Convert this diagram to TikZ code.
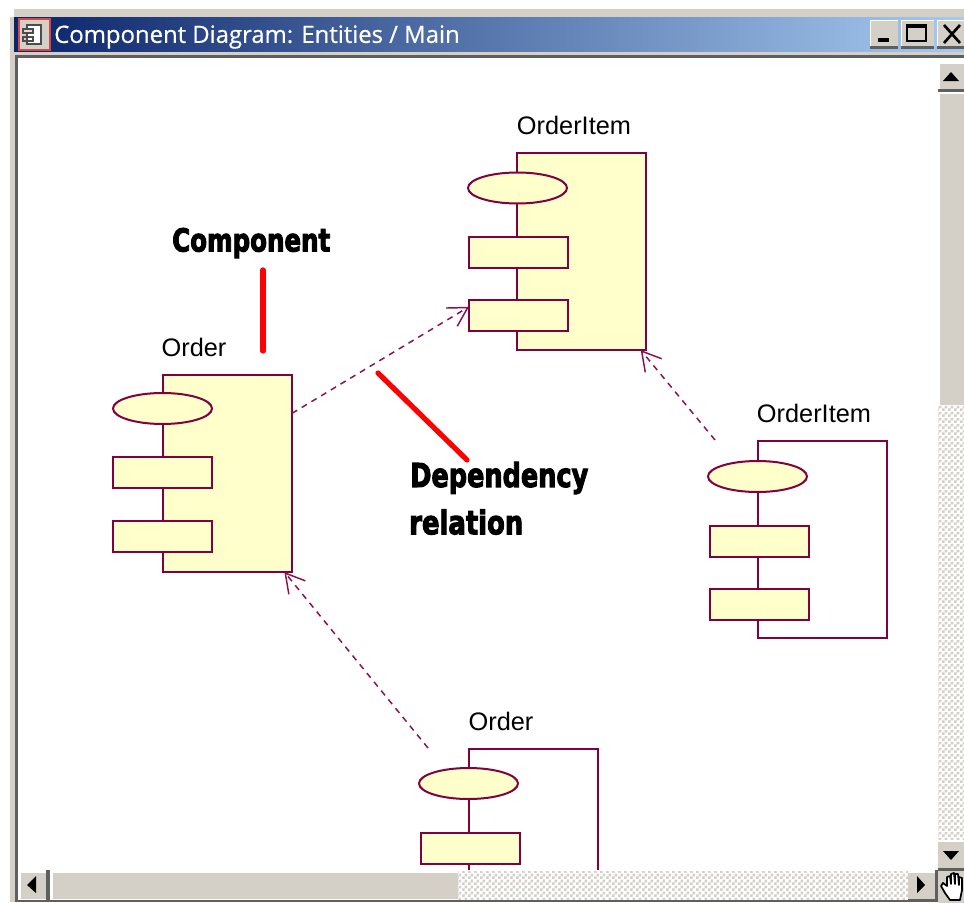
\documentclass[tikz,border=0pt]{standalone}
\usepackage{fontspec}
\usepackage{graphicx}
\setmainfont{Liberation Sans}
\newfontfamily\titlefont[FakeBold=0.6]{Open Sans}
\newfontfamily\notefont[FakeBold=3.5]{DejaVu Sans Bold}
\usetikzlibrary{arrows.meta,shapes.geometric,patterns}
\pgfdeclarepatternformonly{wincheck}{\pgfqpoint{0pt}{0pt}}{\pgfqpoint{4.5pt}{4.5pt}}{\pgfqpoint{4.5pt}{4.5pt}}{%
  \pgfpathrectangle{\pgfqpoint{0pt}{0pt}}{\pgfqpoint{2.25pt}{2.25pt}}%
  \pgfpathrectangle{\pgfqpoint{2.25pt}{2.25pt}}{\pgfqpoint{2.25pt}{2.25pt}}%
  \pgfusepath{fill}}
\definecolor{umlline}{HTML}{800040}
\definecolor{umlfill}{HTML}{FFFFCC}
\definecolor{chrome}{HTML}{D4D0C8}
\definecolor{chromedark}{HTML}{5F5F5F}
\definecolor{titledark}{HTML}{0A246A}
\definecolor{titlelight}{HTML}{A6CAF0}
\definecolor{depline}{HTML}{8A1050}
\tikzset{
  box/.style 2 args={rectangle,inner sep=0pt,outer sep=0pt,minimum width=#1*0.75pt,minimum height=#2*0.75pt},
  compbody/.style={box={129}{197},draw=umlline,line width=1.5pt,fill=umlfill},
  compghost/.style={box={129}{197},draw=umlline,line width=1.5pt,fill=white},
  compellipse/.style={ellipse,inner sep=0pt,outer sep=0pt,minimum width=74.25pt,minimum height=23.25pt,draw=umlline,line width=1.5pt,fill=umlfill},
  comprect/.style={box={99}{31},draw=umlline,line width=1.5pt,fill=umlfill},
  complabel/.style={font=\fontsize{19}{21}\selectfont,text=black,inner sep=0pt},
  dep/.style={draw=depline,line width=1.1pt,dash pattern=on 4.5pt off 4pt,-{Straight Barb[length=14pt,width=16pt,line width=1.1pt]}},
  pointer/.style={draw=red,line width=3.9pt,line cap=round},
  note/.style={font=\fontsize{17.5}{20}\notefont,text=black,inner sep=0pt,anchor=west},
  glyph/.style={fill=black,draw=none},
  checker/.style={pattern=wincheck,pattern color=chrome}
}
\begin{document}
\begin{tikzpicture}[x=0.75pt,y=-0.75pt]
\useasboundingbox (0,0) rectangle (964,903);
\fill[white] (0,0) rectangle (964,903);
% window frame
\fill[chrome] (14,9) rectangle (964,17);
\fill[chrome] (10,17) rectangle (16,902);
\fill[chromedark] (15,56) rectangle (18,902);
\shade[left color=titledark,right color=titlelight] (14,17) rectangle (964,52);
\fill[chrome] (14,52) rectangle (964,55);
\fill[chromedark] (15,55) rectangle (964,58);
% title icon
\draw[draw={rgb,255:red,215;green,70;blue,70},fill=chrome,line width=1.2pt] (19,19) rectangle (50,50);
\draw[black!70,fill=white,line width=1pt] (27,25) rectangle (41,44);
\fill[chrome!70] (22,29) rectangle (33,33);
\draw[black!70,line width=0.8pt] (23,29) rectangle (33,33);
\draw[black!70,line width=0.8pt] (23,37) rectangle (33,41);
\node[font=\fontsize{17.9}{20}\titlefont,text=white,anchor=west,inner sep=0pt] (title) at (54,37) {Component Diagram: Entities / Main};
% window buttons
\foreach \a/\b in {870/898,901/934,937/964}{
  \fill[white] (\a,20) rectangle (\b,48);
  \fill[chrome] (\a+1,21) rectangle (\b,46);
  \fill[chromedark] (\a,46) rectangle (\b,49);
}
\fill[black] (878,38) rectangle (889,42);
\draw[black,line width=1.5pt] (907,25) rectangle (926,41);
\draw[black,line width=1.5pt] (907,26.5) -- (926,26.5);
\draw[black,line width=2pt] (944,25) -- (960,43) (960,25) -- (944,43);
% diagram
\begin{scope}
\clip (18,58) rectangle (938,870);
\node[compbody] (bodyA) at (581.5,251.5) {};
\node[compellipse] (ellA) at (517.5,188) {};
\node[comprect] (rectA1) at (518.5,252.5) {};
\node[comprect] (rectA2) at (518.5,315.5) {};
\node[complabel] (labA) at (574,125) {OrderItem};

\node[compbody] (bodyB) at (227.5,473.5) {};
\node[compellipse] (ellB) at (162.5,408.5) {};
\node[comprect] (rectB1) at (162.5,472.5) {};
\node[comprect] (rectB2) at (162.5,536.5) {};
\node[complabel] (labB) at (194,347) {Order};

\node[compghost] (bodyC) at (822,539.5) {};
\node[compellipse] (ellC) at (757.5,476.5) {};
\node[comprect] (rectC1) at (759,541) {};
\node[comprect] (rectC2) at (759,604) {};
\node[complabel] (labC) at (814,413) {OrderItem};

\node[compghost] (bodyD) at (533.5,847.5) {};
\node[compellipse] (ellD) at (468.5,783.5) {};
\node[comprect] (rectD1) at (470.5,848) {};
\node[complabel] (labD) at (501,721) {Order};

\coordinate (startC) at (715,440);
\coordinate (startD) at (428,748);
\draw[dep] (bodyB.43) -- (rectA2.170);
\draw[dep] (startC) -- (bodyA.-59.3);
\draw[dep] (startD) -- (bodyB.-60.2);
\end{scope}
% annotations
\node[note] (noteA) at (172,243) {\resizebox*{118.5pt}{22.5pt}{Component}};
\node[note] (noteB) at (410,478) {\resizebox*{133.5pt}{24pt}{Dependency}};
\node[note] (noteC) at (409,522) {\resizebox*{85.5pt}{19pt}{relation}};
\coordinate (ptrA) at (263,270);
\coordinate (ptrAe) at (263,351);
\coordinate (ptrB) at (378,373);
\coordinate (ptrBe) at (467,460);
\draw[pointer] (ptrA) -- (ptrAe);
\draw[pointer] (ptrB) -- (ptrBe);
% vertical scrollbar
\fill[white] (938,58) rectangle (964,840);
\fill[checker] (938,405) rectangle (964,840);
\fill[chrome] (940,62) rectangle (964,89);
\fill[white] (940,62) rectangle (964,64);
\fill[chromedark] (938,89) rectangle (964,92);
\fill[chrome] (940,94) rectangle (964,405);
\fill[glyph] (951,72) -- (943,81) -- (959,81) -- cycle;
\fill[chrome] (938,840) rectangle (964,868);
\fill[white] (938,840) rectangle (964,842);
\fill[chromedark] (938,868) rectangle (964,871);
\fill[glyph] (943,851) -- (959,851) -- (951,860) -- cycle;
% horizontal scrollbar
\fill[white] (18,870) rectangle (938,900);
\fill[checker] (458,871) rectangle (908,900);
\fill[chrome] (21,873) rectangle (46,899);
\fill[chromedark] (46,870) rectangle (49.5,902);
\fill[chrome] (53,873) rectangle (458,899);
\fill[glyph] (27,885) -- (36,876) -- (36,893) -- cycle;
\fill[chrome] (908,873) rectangle (935,899);
\fill[chromedark] (908,899) rectangle (938,902);
\fill[chromedark] (15,900) rectangle (908,902);
\fill[chromedark] (935,870) rectangle (938,902);
\fill[glyph] (925,885) -- (917,876) -- (917,893) -- cycle;
% hand
\fill[chrome] (938,871) rectangle (964,903);
\draw[black,fill=white,line width=1.3pt,line join=round]
 (950,900) -- (945,893) -- (941,886) -- (943,883) -- (947,886) -- (947,877) -- (950,876) -- (951,884)
 -- (951,874) -- (954,873) -- (955,884) -- (955,874) -- (958,874) -- (959,885) -- (959,877) -- (962,878) -- (962,890) -- (960,900) -- cycle;
\end{tikzpicture}
\end{document}
